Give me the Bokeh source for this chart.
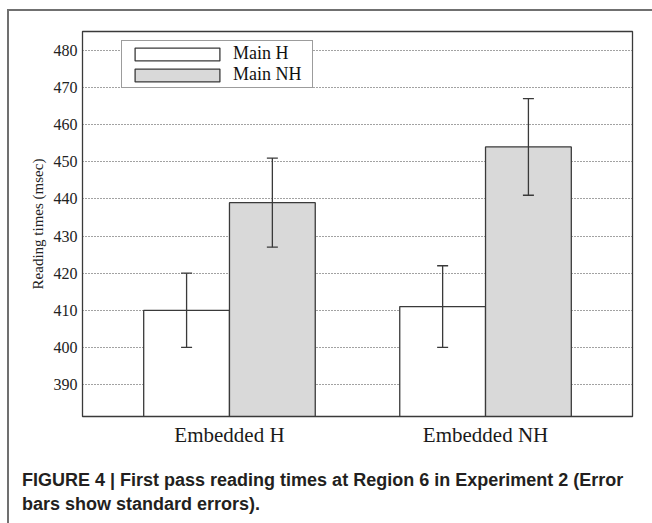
from bokeh.plotting import figure
from bokeh.models import (ColumnDataSource, FactorRange, Range1d, Whisker, TeeHead,
                          Legend, LegendItem, Div)
from bokeh.layouts import column
from bokeh.transform import dodge
from bokeh.embed import file_html
from bokeh.resources import INLINE

# ---- data ----
groups = ["Embedded H", "Embedded NH"]
series = ["Main H", "Main NH"]
main_h = [410, 411]
main_h_lower = [400, 400]
main_h_upper = [420, 422]
main_nh = [439, 454]
main_nh_lower = [427, 441]
main_nh_upper = [451, 467]
y_ticks = [390, 400, 410, 420, 430, 440, 450, 460, 470, 480]
y_min, y_max = 381.4, 485.1
y_label = "Reading times (msec)"
caption_lines = [
    "FIGURE 4 | First pass reading times at Region 6 in Experiment 2 (Error",
    "bars show standard errors).",
]

SERIF = "Liberation Serif"
SANS = "Liberation Sans"
DARK = "#3a3a3a"

p = figure(
    x_range=FactorRange(factors=groups, range_padding=0.074),
    y_range=Range1d(y_min, y_max),
    width=652, height=468,
    output_backend="svg", toolbar_location=None,
    min_border_left=82, min_border_right=20, min_border_top=31, min_border_bottom=52,
)

bar_w = 0.335
off = bar_w / 2

src_h = ColumnDataSource(dict(group=groups, top=main_h, lower=main_h_lower, upper=main_h_upper))
src_nh = ColumnDataSource(dict(group=groups, top=main_nh, lower=main_nh_lower, upper=main_nh_upper))

r_h = p.vbar(x=dodge("group", -off, range=p.x_range), top="top", bottom=y_min, width=bar_w,
             source=src_h, fill_color="white", line_color=DARK, line_width=1.3)
r_nh = p.vbar(x=dodge("group", off, range=p.x_range), top="top", bottom=y_min, width=bar_w,
              source=src_nh, fill_color="#d9d9d9", line_color=DARK, line_width=1.3)

for src, o in ((src_h, -off), (src_nh, off)):
    w = Whisker(base=dodge("group", o, range=p.x_range), upper="upper", lower="lower", source=src,
                line_color=DARK, line_width=1.3, level="overlay",
                upper_head=TeeHead(size=11, line_color=DARK, line_width=1.3),
                lower_head=TeeHead(size=11, line_color=DARK, line_width=1.3))
    p.add_layout(w)

legend = Legend(
    items=[LegendItem(label=series[0], renderers=[r_h]), LegendItem(label=series[1], renderers=[r_nh])],
    location=(39, 328), orientation="vertical",
    glyph_width=106, glyph_height=16, label_standoff=3, label_width=77, spacing=0, padding=2, margin=0,
    label_text_font=SERIF, label_text_font_size="18px", label_text_color="#111",
    border_line_color=DARK, border_line_width=1.5, background_fill_color="white", background_fill_alpha=1.0,
)
p.add_layout(legend)

# axes
p.yaxis.ticker = y_ticks
p.yaxis.axis_label = y_label
p.yaxis.axis_label_text_font = SERIF
p.yaxis.axis_label_text_font_style = "normal"
p.yaxis.axis_label_text_font_size = "15px"
p.yaxis.axis_label_text_color = "#222"
p.yaxis.axis_label_standoff = 5
p.yaxis.major_label_text_font = SERIF
p.yaxis.major_label_text_font_size = "16px"
p.yaxis.major_label_text_color = "#222"
p.yaxis.major_label_standoff = 5
p.yaxis.major_tick_out = 0
p.yaxis.major_tick_in = 0
p.yaxis.major_tick_line_color = None
p.yaxis.minor_tick_line_color = None
p.yaxis.axis_line_color = DARK

p.xaxis.major_label_text_font = SERIF
p.xaxis.major_label_text_font_size = "21px"
p.xaxis.major_label_text_color = "#1a1a1a"
p.xaxis.major_label_standoff = 6
p.xaxis.major_tick_out = 0
p.xaxis.major_tick_in = 0
p.xaxis.major_tick_line_color = None
p.xaxis.minor_tick_line_color = None
p.xaxis.axis_line_color = DARK

p.xgrid.grid_line_color = None
p.ygrid.grid_line_color = "#444"
p.ygrid.grid_line_dash = "1 2"
p.ygrid.grid_line_width = 1

p.outline_line_color = DARK
p.outline_line_width = 1.3
p.background_fill_color = "white"
p.border_fill_color = None

caption = Div(
    text="<br>".join(caption_lines),
    width=630, height=55, margin=(0, 0, 0, 22),
    styles={"font-family": SANS, "font-weight": "bold", "font-size": "18px",
            "line-height": "24px", "color": "#231f20", "white-space": "nowrap"},
)

layout = column(p, caption, spacing=0,
                styles={"box-shadow": "inset 7px 9px 0 0 #ffffff, inset 9px 11px 0 0 #707070",
                        "background-color": "#ffffff"})

open("out.html", "w").write(file_html(layout, INLINE))
